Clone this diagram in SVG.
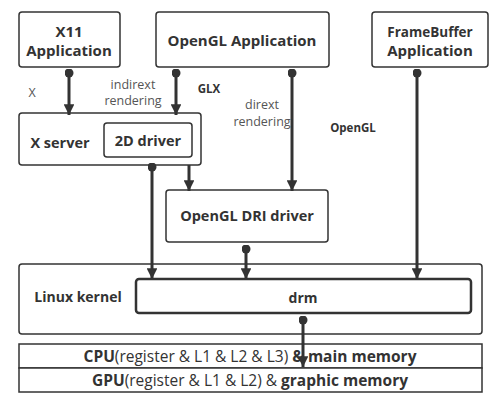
<svg xmlns="http://www.w3.org/2000/svg" width="500" height="400" viewBox="0 0 500 400">
<defs>
<marker id="arr" viewBox="0 0 10 10" refX="10" refY="5" markerWidth="3.8" markerHeight="3.6" orient="auto" markerUnits="strokeWidth">
<path d="M0,0 L10,5 L0,10 z" fill="#333"/>
</marker>
<marker id="dot" viewBox="0 0 10 10" refX="5" refY="5" markerWidth="3" markerHeight="3" markerUnits="strokeWidth">
<circle cx="5" cy="5" r="5" fill="#333"/>
</marker>
<style>
.box{fill:#fff;stroke:#333;stroke-width:1.5}
.t{font-family:"Open Sans","Liberation Sans",sans-serif;fill:#333;text-anchor:middle}
.b{font-weight:700}
.n{font-weight:400;fill:#555}
.c{fill:none;stroke:#333;stroke-width:3}
</style>
</defs>
<rect width="500" height="400" fill="#fff"/>
<g id="x11app">
<rect class="box" x="19" y="12" width="101" height="55" rx="3"/>
<text class="t b" x="69" y="37" font-size="15">X11</text>
<text class="t b" x="69" y="56" font-size="15">Application</text>
</g>
<g id="openglapp">
<rect class="box" x="156" y="12" width="173" height="55" rx="3"/>
<text class="t b" x="242" y="46" font-size="15">OpenGL Application</text>
</g>
<g id="fbapp">
<rect class="box" x="372" y="12" width="116" height="55" rx="3"/>
<text class="t b" x="430" y="37" font-size="13.5">FrameBuffer</text>
<text class="t b" x="430" y="56" font-size="15">Application</text>
</g>
<g id="xserver">
<rect class="box" x="19" y="113" width="182" height="52" rx="3"/>
<text class="t b" x="60" y="148" font-size="14.5">X server</text>
<g id="driver2d">
<rect class="box" x="104" y="123" width="88" height="34" rx="3"/>
<text class="t b" x="148" y="146" font-size="14.5">2D driver</text>
</g>
</g>
<g id="dri">
<rect class="box" x="166" y="190" width="162" height="52" rx="3"/>
<text class="t b" x="247" y="221" font-size="14.5">OpenGL DRI driver</text>
</g>
<g id="kernel">
<rect class="box" x="19" y="264" width="463" height="70" rx="3"/>
<text class="t b" x="78" y="302" font-size="14">Linux kernel</text>
<g id="drm">
<rect class="box" x="136" y="279" width="335" height="34" rx="3" style="stroke-width:2.5"/>
<text class="t b" x="303" y="303" font-size="14">drm</text>
</g>
</g>
<g id="cpu">
<rect class="box" x="19" y="344" width="463" height="24"/>
<text class="t" x="250" y="362" font-size="15.5"><tspan class="b">CPU</tspan>(register &amp; L1 &amp; L2 &amp; L3) <tspan class="b">&amp; main memory</tspan></text>
</g>
<g id="gpu">
<rect class="box" x="19" y="368" width="463" height="24"/>
<text class="t" x="250" y="386" font-size="15.5"><tspan class="b">GPU</tspan>(register &amp; L1 &amp; L2) &amp; <tspan class="b">graphic memory</tspan></text>
</g>
<g id="labels">
<text class="t n" x="32" y="97" font-size="12.5">X</text>
<text class="t n" x="133" y="89" font-size="12.5">indirext</text>
<text class="t n" x="133" y="105" font-size="12.5">rendering</text>
<text class="t b" x="209" y="93" font-size="11.5">GLX</text>
<text class="t n" x="262" y="109" font-size="12.5">dirext</text>
<text class="t n" x="262" y="126" font-size="12.5">rendering</text>
<text class="t b" x="353" y="132" font-size="11.5">OpenGL</text>
</g>
<g id="connectors">
<path class="c" d="M69,73 V115" marker-start="url(#dot)" marker-end="url(#arr)"/>
<path class="c" d="M176,73 V115" marker-start="url(#dot)" marker-end="url(#arr)"/>
<path class="c" d="M292,73 V191" marker-start="url(#dot)" marker-end="url(#arr)"/>
<path class="c" d="M417,73 V279" marker-start="url(#dot)" marker-end="url(#arr)"/>
<path class="c" d="M152,167 V279" marker-start="url(#dot)" marker-end="url(#arr)"/>
<path class="c" d="M189,165 V191" marker-end="url(#arr)"/>
<path class="c" d="M246,249 V279" marker-start="url(#dot)" marker-end="url(#arr)"/>
<path class="c" d="M303,320 V367" marker-start="url(#dot)" marker-end="url(#arr)"/>
</g>
</svg>
